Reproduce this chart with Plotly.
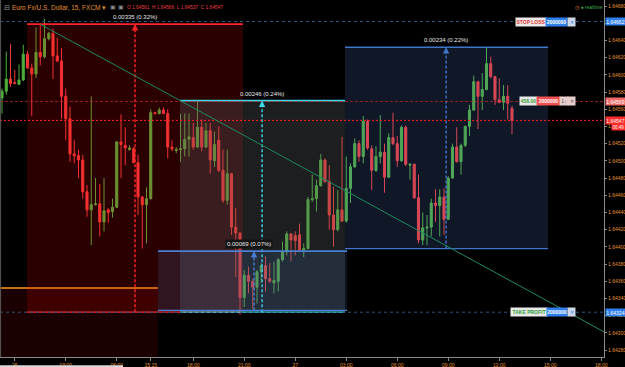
import plotly.graph_objects as go

# ---------------- data (EUR/USD 15-min bars, FXCM) ----------------
opens = [1.64573, 1.64581, 1.64595, 1.64591, 1.64589, 1.64594, 1.64624, 1.64608, 1.64601, 1.64626,
         1.64621, 1.64642, 1.64648, 1.64622, 1.64616, 1.64575, 1.64549, 1.64508, 1.64506, 1.64501,
         1.64464, 1.64443, 1.64449, 1.64450, 1.64429, 1.64443, 1.64441, 1.64446, 1.64522, 1.64518,
         1.64513, 1.64514, 1.64498, 1.64458, 1.64449, 1.64456, 1.64556, 1.64555, 1.64559, 1.64555,
         1.64516, 1.64512, 1.64513, 1.64514, 1.64525, 1.64527, 1.64516, 1.64539, 1.64516, 1.64535,
         1.64500, 1.64524, 1.64489, 1.64454, 1.64485, 1.64423, 1.64416, 1.64341, 1.64367, 1.64360,
         1.64353, 1.64371, 1.64378, 1.64363, 1.64358, 1.64360, 1.64385, 1.64394, 1.64415, 1.64413,
         1.64414, 1.64396, 1.64398, 1.64455, 1.64456, 1.64471, 1.64501, 1.64476, 1.64437, 1.64420,
         1.64443, 1.64430, 1.64468, 1.64493, 1.64520, 1.64505, 1.64546, 1.64514, 1.64489, 1.64505,
         1.64510, 1.64481, 1.64527, 1.64520, 1.64500, 1.64539, 1.64495, 1.64496, 1.64457, 1.64408,
         1.64422, 1.64423, 1.64451, 1.64448, 1.64458, 1.64432, 1.64480, 1.64516, 1.64499, 1.64518,
         1.64540, 1.64559, 1.64592, 1.64575, 1.64583, 1.64613, 1.64598, 1.64571, 1.64568, 1.64575,
         1.64561]
highs = [1.64584, 1.64627, 1.64636, 1.64606, 1.64612, 1.64635, 1.64628, 1.64613, 1.64655, 1.64658,
         1.64665, 1.64650, 1.64654, 1.64643, 1.64631, 1.64584, 1.64563, 1.64524, 1.64513, 1.64507,
         1.64472, 1.64575, 1.64480, 1.64473, 1.64480, 1.64445, 1.64456, 1.64523, 1.64554, 1.64539,
         1.64518, 1.64516, 1.64507, 1.64459, 1.64469, 1.64560, 1.64557, 1.64562, 1.64562, 1.64560,
         1.64524, 1.64516, 1.64555, 1.64555, 1.64555, 1.64544, 1.64569, 1.64548, 1.64544, 1.64544,
         1.64534, 1.64540, 1.64513, 1.64513, 1.64486, 1.64445, 1.64417, 1.64373, 1.64377, 1.64363,
         1.64373, 1.64381, 1.64389, 1.64381, 1.64383, 1.64387, 1.64406, 1.64418, 1.64416, 1.64418,
         1.64427, 1.64404, 1.64458, 1.64484, 1.64478, 1.64508, 1.64503, 1.64495, 1.64470, 1.64466,
         1.64528, 1.64505, 1.64497, 1.64526, 1.64524, 1.64552, 1.64548, 1.64518, 1.64517, 1.64553,
         1.64520, 1.64532, 1.64556, 1.64529, 1.64541, 1.64541, 1.64497, 1.64497, 1.64484, 1.64440,
         1.64437, 1.64456, 1.64467, 1.64467, 1.64468, 1.64482, 1.64520, 1.64539, 1.64520, 1.64541,
         1.64565, 1.64599, 1.64593, 1.64602, 1.64632, 1.64621, 1.64599, 1.64596, 1.64588, 1.64588,
         1.64564]
lows = [1.64555, 1.64577, 1.64586, 1.64589, 1.64589, 1.64593, 1.64607, 1.64552, 1.64596, 1.64611,
        1.64619, 1.64640, 1.64595, 1.64615, 1.64549, 1.64524, 1.64499, 1.64497, 1.64480, 1.64456,
        1.64435, 1.64402, 1.64448, 1.64412, 1.64418, 1.64428, 1.64434, 1.64445, 1.64480, 1.64495,
        1.64512, 1.64497, 1.64437, 1.64398, 1.64404, 1.64455, 1.64554, 1.64554, 1.64554, 1.64503,
        1.64511, 1.64509, 1.64499, 1.64505, 1.64505, 1.64513, 1.64515, 1.64511, 1.64515, 1.64485,
        1.64493, 1.64487, 1.64451, 1.64449, 1.64414, 1.64365, 1.64321, 1.64330, 1.64346, 1.64328,
        1.64334, 1.64358, 1.64348, 1.64358, 1.64346, 1.64348, 1.64383, 1.64390, 1.64383, 1.64390,
        1.64394, 1.64388, 1.64397, 1.64452, 1.64441, 1.64470, 1.64474, 1.64420, 1.64400, 1.64418,
        1.64429, 1.64428, 1.64451, 1.64492, 1.64499, 1.64497, 1.64513, 1.64466, 1.64487, 1.64497,
        1.64463, 1.64480, 1.64518, 1.64493, 1.64499, 1.64494, 1.64478, 1.64456, 1.64404, 1.64402,
        1.64402, 1.64412, 1.64429, 1.64412, 1.64414, 1.64431, 1.64479, 1.64498, 1.64484, 1.64516,
        1.64529, 1.64558, 1.64537, 1.64559, 1.64582, 1.64596, 1.64565, 1.64567, 1.64559, 1.64548,
        1.64531]
closes = [1.64581, 1.64595, 1.64590, 1.64590, 1.64594, 1.64624, 1.64608, 1.64601, 1.64626, 1.64621,
          1.64642, 1.64648, 1.64622, 1.64616, 1.64575, 1.64549, 1.64508, 1.64506, 1.64501, 1.64464,
          1.64443, 1.64449, 1.64450, 1.64429, 1.64442, 1.64440, 1.64446, 1.64522, 1.64519, 1.64515,
          1.64515, 1.64498, 1.64458, 1.64449, 1.64456, 1.64556, 1.64555, 1.64559, 1.64555, 1.64516,
          1.64514, 1.64513, 1.64514, 1.64525, 1.64528, 1.64516, 1.64539, 1.64516, 1.64535, 1.64501,
          1.64519, 1.64489, 1.64454, 1.64485, 1.64423, 1.64416, 1.64341, 1.64367, 1.64360, 1.64353,
          1.64371, 1.64378, 1.64363, 1.64360, 1.64361, 1.64385, 1.64394, 1.64415, 1.64408, 1.64407,
          1.64396, 1.64398, 1.64455, 1.64456, 1.64471, 1.64501, 1.64476, 1.64437, 1.64420, 1.64443,
          1.64430, 1.64468, 1.64493, 1.64520, 1.64505, 1.64546, 1.64515, 1.64489, 1.64505, 1.64510,
          1.64481, 1.64527, 1.64520, 1.64500, 1.64539, 1.64496, 1.64496, 1.64457, 1.64408, 1.64422,
          1.64423, 1.64451, 1.64448, 1.64458, 1.64432, 1.64480, 1.64516, 1.64499, 1.64518, 1.64540,
          1.64559, 1.64592, 1.64575, 1.64583, 1.64613, 1.64598, 1.64571, 1.64568, 1.64575, 1.64567,
          1.64547]

tick_bars = [3, 15, 27, 35, 45, 57, 69, 81, 93, 105, 117, 129, 141]
tick_labels = ["26", "03:00", "06:00", "15:15", "18:00", "21:00", "27",
               "03:00", "06:00", "09:00", "12:00", "15:00", "18:00"]

SL_PRICE = 1.64662
ORDER_PRICE = 1.64569
LAST_PRICE = 1.64547
TP_PRICE = 1.64324

# drawing tools (bar index, price)
ranges = [
    # x0, x1, bottom, top, arrow_x, label, fill, line colour
    (5.9, 56.7, 1.64324, 1.64659, 31.3, "0.00335 (0.32%)", "rgba(255,0,0,0.165)", "#ff2424"),
    (41.9, 80.7, 1.64324, 1.64570, 61.2, "0.00246 (0.24%)", "rgba(100,108,110,0.28)", "#3fd8ea"),
    (36.7, 81.2, 1.64326, 1.64395, 59.3, "0.00069 (0.07%)", "rgba(90,135,215,0.15)", "#4a7fd4"),
    (80.7, 128.5, 1.64398, 1.64632, 104.5, "0.00234 (0.22%)", "rgba(90,135,215,0.18)", "#3f75c8"),
]
trend = ((8.94, 1.64659), (145.4, 1.64291))

X_RANGE = [-0.47, 141.65]
Y_RANGE = [1.642719, 1.64687]
PLOT_W = 604.0

FONT = "Liberation Sans"
NARROW = "Liberation Sans Narrow, Liberation Sans"
ORANGE = "#e3922f"

fig = go.Figure()
fig.add_trace(go.Candlestick(
    x=list(range(len(opens))), open=opens, high=highs, low=lows, close=closes,
    increasing=dict(line=dict(color="#4fae3c", width=1), fillcolor="#4fae3c"),
    decreasing=dict(line=dict(color="#f23a3a", width=1), fillcolor="#f23a3a"),
    whiskerwidth=0, hoverinfo="skip", showlegend=False,
))

shapes = []
annotations = []

# lower-left dark red zone with orange top edge
shapes.append(dict(type="rect", xref="x", yref="y", x0=-5, x1=36.7, y0=1.6420, y1=1.64352,
                   fillcolor="rgba(255,0,0,0.10)", line=dict(width=0)))
shapes.append(dict(type="line", xref="x", yref="y", x0=-5, x1=36.7, y0=1.64352, y1=1.64352,
                   line=dict(color="#ff9a1a", width=1.5)))

for (x0, x1, y0, y1, ax_, label, fill, col) in ranges:
    shapes.append(dict(type="rect", xref="x", yref="y", x0=x0, x1=x1, y0=y0, y1=y1,
                       fillcolor=fill, line=dict(width=0)))
    shapes.append(dict(type="line", xref="x", yref="y", x0=x0, x1=x1, y0=y1, y1=y1,
                       line=dict(color=col, width=1.6)))
    shapes.append(dict(type="line", xref="x", yref="y", x0=x0, x1=x1, y0=y0, y1=y0,
                       line=dict(color=col, width=1.2)))
    shapes.append(dict(type="line", xref="x", yref="y", x0=ax_, x1=ax_, y0=y0, y1=y1,
                       line=dict(color=col, width=1.4, dash="3px,2px")))
    annotations.append(dict(x=ax_, y=y1, xref="x", yref="y", text="", showarrow=True,
                            ax=0, ay=6, arrowhead=2, arrowsize=0.9, arrowwidth=1.4,
                            arrowcolor=col))
    is_small = label.startswith("0.00069")
    annotations.append(dict(x=ax_ - (1.2 if is_small else 0), y=y1, xref="x", yref="y",
                            text=label, showarrow=False, yshift=7,
                            font=dict(family=FONT, size=6, color="#e8e8e8"),
                            bgcolor="#141414" if is_small else None, borderpad=1))

# horizontal order / price lines
shapes.append(dict(type="line", xref="paper", yref="y", x0=0, x1=1, y0=SL_PRICE, y1=SL_PRICE,
                   line=dict(color="#2c5582", width=1, dash="dot")))
shapes.append(dict(type="line", xref="paper", yref="y", x0=0, x1=1, y0=TP_PRICE, y1=TP_PRICE,
                   line=dict(color="#2c5582", width=1, dash="dot")))
shapes.append(dict(type="line", xref="paper", yref="y", x0=0, x1=1, y0=ORDER_PRICE, y1=ORDER_PRICE,
                   line=dict(color="rgba(190,40,40,0.75)", width=1, dash="3px,2px")))
shapes.append(dict(type="line", xref="paper", yref="y", x0=0, x1=1, y0=LAST_PRICE, y1=LAST_PRICE,
                   line=dict(color="#ff2020", width=1, dash="2px,2px")))

# trend line
shapes.append(dict(type="line", xref="x", yref="y", x0=trend[0][0], y0=trend[0][1],
                   x1=trend[1][0], y1=trend[1][1], line=dict(color="#1f8a62", width=1)))

# left border line
shapes.append(dict(type="line", xref="paper", yref="paper", x0=0.001, x1=0.001, y0=0, y1=1,
                   line=dict(color="#5a5a5a", width=1)))
# scrollbar strip at bottom
shapes.append(dict(type="rect", xref="paper", yref="paper", x0=0, x1=123 / PLOT_W,
                   y0=-0.028, y1=-0.023, fillcolor="#d8d8d8", line=dict(width=0)))


def px(p):
    return p / PLOT_W


def box(x0, x1, price, text, bg, fc, size=5):
    annotations.append(dict(x=px(x0), y=price, xref="paper", yref="y", xanchor="left",
                            text=text, showarrow=False, width=x1 - x0, height=8,
                            bgcolor=bg, borderpad=0,
                            font=dict(family=NARROW, size=size, color=fc)))


# order labels
box(515, 545, SL_PRICE, "<b>STOP LOSS</b>", "#e8e8e8", "#e53935")
box(545, 566, SL_PRICE, "<b>2000000</b>", "#2f80ed", "#ffffff")
box(567, 574, SL_PRICE, "✕", "#cdd9e6", "#2f80ed")
box(519, 536, ORDER_PRICE, "<b>458.00</b>", "#e8e8e8", "#37a037")
box(536, 559, ORDER_PRICE, "<b>2000000</b>", "#f05050", "#ffffff")
box(559, 567, ORDER_PRICE, "1↓", "#e6cccc", "#555555")
box(567, 574, ORDER_PRICE, "✕", "#e6cccc", "#555555")
box(510, 546, TP_PRICE, "<b>TAKE PROFIT</b>", "#e8e8e8", "#2e9d3a")
box(546, 566, TP_PRICE, "<b>2000000</b>", "#2f80ed", "#ffffff")
box(567, 574, TP_PRICE, "✕", "#cdd9e6", "#2f80ed")

# price-axis labels
for price, bg in [(SL_PRICE, "#2f80ed"), (ORDER_PRICE, "#f06a6a"),
                  (LAST_PRICE, "#ff2a2a"), (TP_PRICE, "#2f80ed")]:
    annotations.append(dict(x=1, y=price, xref="paper", yref="y", xanchor="left", xshift=1,
                            text=f"{price:.5f}", showarrow=False, bgcolor=bg, borderpad=0,
                            width=19, height=7, font=dict(family=NARROW, size=5, color="#ffffff")))
annotations.append(dict(x=1, y=LAST_PRICE, xref="paper", yref="y", xanchor="left", xshift=7,
                        yshift=-7, text="00:49", showarrow=False, bgcolor="#ff2a2a", borderpad=0,
                        width=13, height=6, font=dict(family=NARROW, size=4.5, color="#ffffff")))

# header
annotations.append(dict(x=px(2), y=1, xref="paper", yref="paper", xanchor="left", yanchor="top",
                        yshift=-2, text="⊟", showarrow=False,
                        font=dict(family=FONT, size=7, color="#9a9a9a")))
annotations.append(dict(x=px(10), y=1, xref="paper", yref="paper", xanchor="left", yanchor="top",
                        yshift=-2, text="Euro Fx/U.S. Dollar, 15, FXCM ▾", showarrow=False,
                        font=dict(family=FONT, size=6.5, color=ORANGE)))
annotations.append(dict(x=px(108), y=1, xref="paper", yref="paper", xanchor="left", yanchor="top",
                        yshift=-2, text="▣ ▣", showarrow=False,
                        font=dict(family=FONT, size=5.5, color="#8a8a8a")))
annotations.append(dict(x=px(125), y=1, xref="paper", yref="paper", xanchor="left", yanchor="top",
                        yshift=-3, text="O 1.64561  H 1.64566  L 1.64537  C 1.64547", showarrow=False,
                        font=dict(family=FONT, size=4.8, color="#f03c3c")))
annotations.append(dict(x=px(573), y=1, xref="paper", yref="paper", xanchor="left", yanchor="top",
                        yshift=-2, text="<span style='color:#e3922f'>◷</span> ● realtime",
                        showarrow=False, font=dict(family=FONT, size=5, color="#3dab4a")))

fig.update_layout(
    width=625, height=367,
    margin=dict(l=0, r=21, t=0, b=10, autoexpand=False),
    paper_bgcolor="#000000", plot_bgcolor="#000000",
    showlegend=False,
    shapes=shapes, annotations=annotations,
    xaxis=dict(range=X_RANGE, rangeslider=dict(visible=False), showgrid=False, zeroline=False,
               tickmode="array", tickvals=tick_bars, ticktext=tick_labels,
               ticks="outside", ticklen=3, tickcolor="#888888",
               showline=True, linecolor="#8a8a8a", linewidth=1,
               tickfont=dict(family=FONT, size=5, color=ORANGE), automargin=False),
    yaxis=dict(range=Y_RANGE, side="right", showgrid=False, zeroline=False,
               tick0=1.6428, dtick=0.0002, tickformat=".5f",
               ticks="outside", ticklen=2, tickcolor="#888888",
               showline=True, linecolor="#8a8a8a", linewidth=1,
               tickfont=dict(family=NARROW, size=5, color=ORANGE), automargin=False),
)

fig.write_html("out.html")
